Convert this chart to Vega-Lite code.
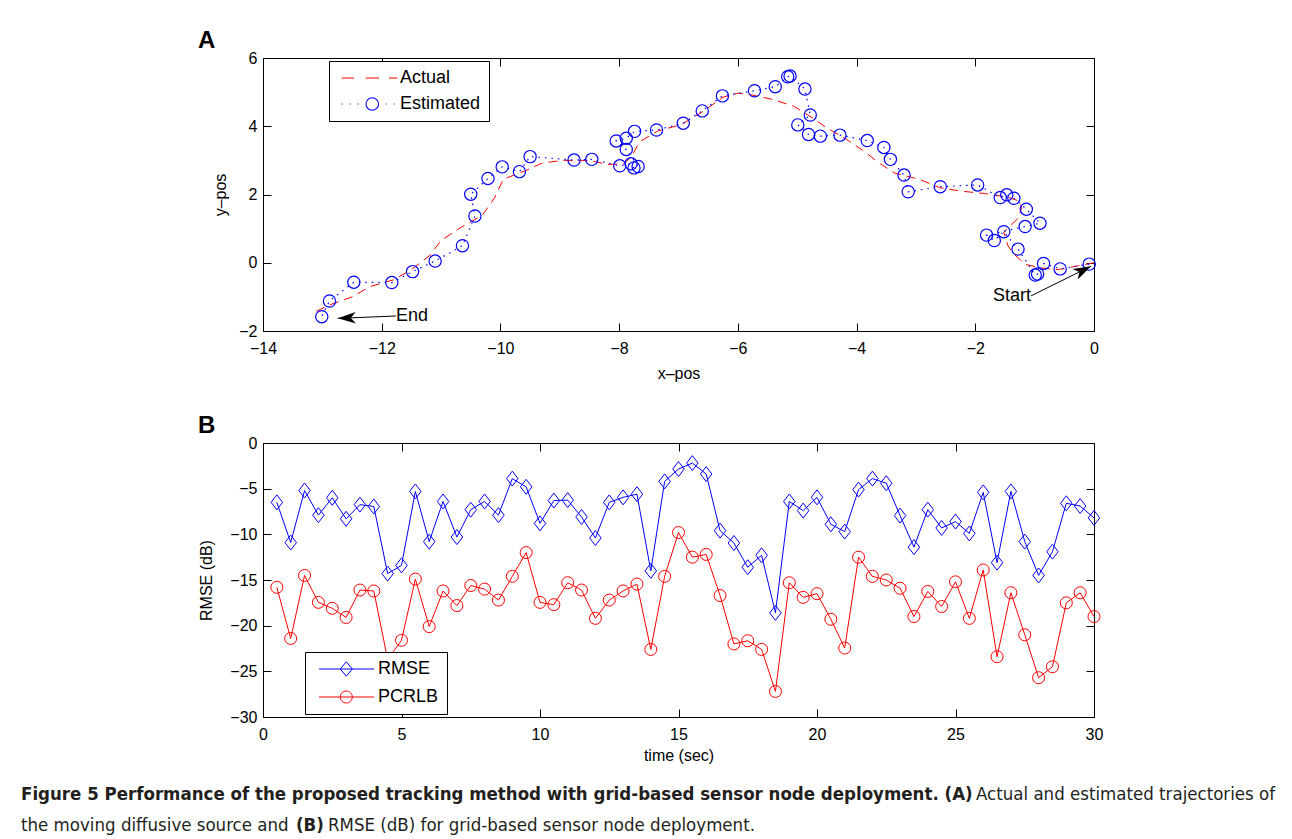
{
  "$schema": "https://vega.github.io/schema/vega-lite/v6.json",
  "background": "white",
  "padding": {"left": 20, "top": 28, "right": 0, "bottom": 0},
  "spacing": 31,
  "resolve": {"scale": {"color": "independent"}, "legend": {"color": "independent"}},
  "config": {
    "font": "Liberation Sans",
    "view": {"stroke": "black", "strokeWidth": 1},
    "axis": {"grid": false, "domainColor": "black", "domainWidth": 1, "tickColor": "black", "tickWidth": 1, "tickSize": -8, "labelColor": "black", "labelFontSize": 16, "labelFlush": false, "labelOverlap": false, "labelBound": false, "titleColor": "black", "titleFontSize": 16, "titleFontWeight": "normal"},
    "axisX": {"labelPadding": 17, "titlePadding": 9},
    "axisY": {"labelPadding": 14, "titlePadding": 10},
    "title": {"fontSize": 24, "fontWeight": "bold", "anchor": "start", "frame": "group", "dx": -65, "offset": -3, "color": "black"}
  },
  "datasets": {
    "actual": [
      {"i":1,"x":0.0,"y":0.0},{"i":2,"x":-0.3,"y":-0.1},{"i":3,"x":-0.6,"y":-0.2},{"i":4,"x":-0.9,"y":-0.15},{"i":5,"x":-1.15,"y":-0.05},
      {"i":6,"x":-1.35,"y":0.25},{"i":7,"x":-1.45,"y":0.5},{"i":8,"x":-1.52,"y":0.9},{"i":9,"x":-1.4,"y":1.1},{"i":10,"x":-1.28,"y":1.3},
      {"i":11,"x":-1.22,"y":1.6},{"i":12,"x":-1.25,"y":1.8},{"i":13,"x":-1.45,"y":1.92},{"i":14,"x":-1.85,"y":2.03},{"i":15,"x":-2.25,"y":2.1},
      {"i":16,"x":-2.6,"y":2.2},{"i":17,"x":-2.95,"y":2.45},{"i":18,"x":-3.35,"y":2.62},{"i":19,"x":-3.6,"y":2.9},{"i":20,"x":-3.9,"y":3.3},
      {"i":21,"x":-4.2,"y":3.65},{"i":22,"x":-4.5,"y":3.95},{"i":23,"x":-4.75,"y":4.25},{"i":24,"x":-5.05,"y":4.58},{"i":25,"x":-5.4,"y":4.78},
      {"i":26,"x":-5.8,"y":4.93},{"i":27,"x":-6.0,"y":4.97},{"i":28,"x":-6.25,"y":4.85},{"i":29,"x":-6.6,"y":4.42},{"i":30,"x":-6.95,"y":4.05},
      {"i":31,"x":-7.35,"y":3.86},{"i":32,"x":-7.65,"y":3.55},{"i":33,"x":-7.8,"y":3.1},{"i":34,"x":-7.92,"y":2.9},{"i":35,"x":-8.2,"y":2.88},
      {"i":36,"x":-8.5,"y":3.0},{"i":37,"x":-8.95,"y":3.0},{"i":38,"x":-9.3,"y":2.92},{"i":39,"x":-9.6,"y":2.68},{"i":40,"x":-9.95,"y":2.45},
      {"i":41,"x":-10.1,"y":1.9},{"i":42,"x":-10.3,"y":1.4},{"i":43,"x":-10.7,"y":1.0},{"i":44,"x":-11.0,"y":0.65},{"i":45,"x":-11.2,"y":0.2},
      {"i":46,"x":-11.5,"y":-0.2},{"i":47,"x":-11.8,"y":-0.5},{"i":48,"x":-12.2,"y":-0.7},{"i":49,"x":-12.5,"y":-1.0},{"i":50,"x":-12.9,"y":-1.25},
      {"i":51,"x":-13.1,"y":-1.42}
    ],
    "estimated": [
      {"i":1,"x":-0.08,"y":-0.04},{"i":2,"x":-0.57,"y":-0.18},{"i":3,"x":-0.85,"y":-0.02},{"i":4,"x":-0.95,"y":-0.33},{"i":5,"x":-0.99,"y":-0.36},
      {"i":6,"x":-1.28,"y":0.4},{"i":7,"x":-1.52,"y":0.91},{"i":8,"x":-1.68,"y":0.65},{"i":9,"x":-1.81,"y":0.81},{"i":10,"x":-1.16,"y":1.06},
      {"i":11,"x":-0.91,"y":1.16},{"i":12,"x":-1.14,"y":1.57},{"i":13,"x":-1.35,"y":1.89},{"i":14,"x":-1.47,"y":1.99},{"i":15,"x":-1.58,"y":1.91},
      {"i":16,"x":-1.96,"y":2.28},{"i":17,"x":-2.59,"y":2.23},{"i":18,"x":-3.13,"y":2.08},{"i":19,"x":-3.2,"y":2.57},{"i":20,"x":-3.43,"y":3.03},
      {"i":21,"x":-3.54,"y":3.38},{"i":22,"x":-3.82,"y":3.58},{"i":23,"x":-4.28,"y":3.74},{"i":24,"x":-4.61,"y":3.71},{"i":25,"x":-4.81,"y":3.76},
      {"i":26,"x":-4.99,"y":4.04},{"i":27,"x":-4.78,"y":4.33},{"i":28,"x":-4.87,"y":5.09},{"i":29,"x":-5.12,"y":5.47},{"i":30,"x":-5.16,"y":5.45},
      {"i":31,"x":-5.37,"y":5.16},{"i":32,"x":-5.72,"y":5.04},{"i":33,"x":-6.26,"y":4.89},{"i":34,"x":-6.6,"y":4.45},{"i":35,"x":-6.92,"y":4.09},
      {"i":36,"x":-7.37,"y":3.89},{"i":37,"x":-7.74,"y":3.85},{"i":38,"x":-7.88,"y":3.65},{"i":39,"x":-8.05,"y":3.57},{"i":40,"x":-7.88,"y":3.32},
      {"i":41,"x":-7.68,"y":2.82},{"i":42,"x":-7.75,"y":2.78},{"i":43,"x":-7.8,"y":2.9},{"i":44,"x":-7.99,"y":2.84},{"i":45,"x":-8.46,"y":3.03},
      {"i":46,"x":-8.76,"y":3.01},{"i":47,"x":-9.5,"y":3.11},{"i":48,"x":-9.68,"y":2.67},{"i":49,"x":-9.97,"y":2.81},{"i":50,"x":-10.21,"y":2.47},
      {"i":51,"x":-10.5,"y":2.01},{"i":52,"x":-10.43,"y":1.37},{"i":53,"x":-10.64,"y":0.5},{"i":54,"x":-11.1,"y":0.05},{"i":55,"x":-11.48,"y":-0.26},
      {"i":56,"x":-11.83,"y":-0.58},{"i":57,"x":-12.47,"y":-0.57},{"i":58,"x":-12.88,"y":-1.12},{"i":59,"x":-13.01,"y":-1.58}
    ],
    "notes": [
      {"label":"End","x":-11.76,"y":-1.56,"hx":-12.74,"hy":-1.63},
      {"label":"Start","x":-1.06,"y":-0.97,"hx":-0.05,"hy":-0.1}
    ],
    "errors": [
      {"t":0.5,"RMSE":-6.5,"PCRLB":-15.8},{"t":1,"RMSE":-10.9,"PCRLB":-21.4},{"t":1.5,"RMSE":-5.2,"PCRLB":-14.5},{"t":2,"RMSE":-7.9,"PCRLB":-17.45},
      {"t":2.5,"RMSE":-6.0,"PCRLB":-18.1},{"t":3,"RMSE":-8.3,"PCRLB":-19.1},{"t":3.5,"RMSE":-6.75,"PCRLB":-16.1},{"t":4,"RMSE":-6.95,"PCRLB":-16.2},
      {"t":4.5,"RMSE":-14.3,"PCRLB":-23.7},{"t":5,"RMSE":-13.4,"PCRLB":-21.6},{"t":5.5,"RMSE":-5.3,"PCRLB":-14.9},{"t":6,"RMSE":-10.8,"PCRLB":-20.1},
      {"t":6.5,"RMSE":-6.4,"PCRLB":-16.2},{"t":7,"RMSE":-10.3,"PCRLB":-17.8},{"t":7.5,"RMSE":-7.3,"PCRLB":-15.6},{"t":8,"RMSE":-6.4,"PCRLB":-16.0},
      {"t":8.5,"RMSE":-7.9,"PCRLB":-17.2},{"t":9,"RMSE":-3.9,"PCRLB":-14.6},{"t":9.5,"RMSE":-4.8,"PCRLB":-12.0},{"t":10,"RMSE":-8.8,"PCRLB":-17.45},
      {"t":10.5,"RMSE":-6.3,"PCRLB":-17.7},{"t":11,"RMSE":-6.25,"PCRLB":-15.3},{"t":11.5,"RMSE":-8.1,"PCRLB":-16.1},{"t":12,"RMSE":-10.4,"PCRLB":-19.2},
      {"t":12.5,"RMSE":-6.5,"PCRLB":-17.2},{"t":13,"RMSE":-5.95,"PCRLB":-16.2},{"t":13.5,"RMSE":-5.6,"PCRLB":-15.45},{"t":14,"RMSE":-14.0,"PCRLB":-22.6},
      {"t":14.5,"RMSE":-4.2,"PCRLB":-14.6},{"t":15,"RMSE":-2.85,"PCRLB":-9.8},{"t":15.5,"RMSE":-2.2,"PCRLB":-12.5},{"t":16,"RMSE":-3.4,"PCRLB":-12.2},
      {"t":16.5,"RMSE":-9.6,"PCRLB":-16.7},{"t":17,"RMSE":-10.95,"PCRLB":-22.0},{"t":17.5,"RMSE":-13.6,"PCRLB":-21.65},{"t":18,"RMSE":-12.3,"PCRLB":-22.6},
      {"t":18.5,"RMSE":-18.6,"PCRLB":-27.2},{"t":19,"RMSE":-6.4,"PCRLB":-15.3},{"t":19.5,"RMSE":-7.4,"PCRLB":-16.9},{"t":20,"RMSE":-5.95,"PCRLB":-16.5},
      {"t":20.5,"RMSE":-8.9,"PCRLB":-19.3},{"t":21,"RMSE":-9.7,"PCRLB":-22.45},{"t":21.5,"RMSE":-5.1,"PCRLB":-12.5},{"t":22,"RMSE":-3.9,"PCRLB":-14.6},
      {"t":22.5,"RMSE":-4.4,"PCRLB":-15.0},{"t":23,"RMSE":-7.95,"PCRLB":-15.9},{"t":23.5,"RMSE":-11.4,"PCRLB":-19.0},{"t":24,"RMSE":-7.3,"PCRLB":-16.25},
      {"t":24.5,"RMSE":-9.3,"PCRLB":-17.9},{"t":25,"RMSE":-8.6,"PCRLB":-15.2},{"t":25.5,"RMSE":-9.9,"PCRLB":-19.2},{"t":26,"RMSE":-5.4,"PCRLB":-13.9},
      {"t":26.5,"RMSE":-13.1,"PCRLB":-23.4},{"t":27,"RMSE":-5.3,"PCRLB":-16.4},{"t":27.5,"RMSE":-10.8,"PCRLB":-21.0},{"t":28,"RMSE":-14.5,"PCRLB":-25.7},
      {"t":28.5,"RMSE":-11.9,"PCRLB":-24.5},{"t":29,"RMSE":-6.6,"PCRLB":-17.5},{"t":29.5,"RMSE":-6.9,"PCRLB":-16.4},{"t":30,"RMSE":-8.2,"PCRLB":-19.0}
    ],
    "caption": [
      {"line":1,"kind":"bold","col":-0.2912,"text":"Figure 5 Performance of the proposed tracking method with grid-based sensor node deployment. (A)"},
      {"line":1,"kind":"normal","col":0.858,"text":"Actual and estimated trajectories of"},
      {"line":2,"kind":"normal","col":-0.2912,"text":"the moving diffusive source and"},
      {"line":2,"kind":"bold","col":0.0397,"text":"(B)"},
      {"line":2,"kind":"normal","col":0.0782,"text":"RMSE (dB) for grid-based sensor node deployment."}
    ]
  },
  "vconcat": [
    {
      "width": 831,
      "height": 273,
      "title": {"text": "A"},
      "resolve": {"axis": {"x": "independent", "y": "independent"}},
      "layer": [
        {
          "data": {"name": "actual"},
          "mark": {"type": "line", "strokeWidth": 1, "strokeDash": [9, 6]},
          "encoding": {
            "x": {"field": "x", "type": "quantitative", "scale": {"domain": [-14, 0], "nice": false, "zero": false}, "axis": {"orient": "bottom", "values": [-14,-12,-10,-8,-6,-4,-2,0], "title": "x–pos"}},
            "y": {"field": "y", "type": "quantitative", "scale": {"domain": [-2, 6], "nice": false, "zero": false}, "axis": {"orient": "left", "values": [-2,0,2,4,6], "title": "y–pos"}},
            "order": {"field": "i", "type": "quantitative"},
            "color": {
              "datum": "Actual", "type": "nominal",
              "scale": {"domain": ["Actual", "Estimated"], "range": ["#ff0000", "#0000ff"]},
              "legend": {
                "title": null, "orient": "none", "legendX": 66, "legendY": 3,
                "strokeColor": "black", "fillColor": "white", "padding": 8, "rowPadding": 8,
                "labelFontSize": 18, "labelColor": "black", "labelOffset": 45, "symbolSize": 144,
                "encode": {"symbols": {"update": {
                  "shape": {"signal": "datum.value === 'Actual' ? 'M-0.72,0H1.33M3.28,0H5.5M7.17,0H8.55' : 'M-0.72,0H-0.55M0.62,0H0.79M1.95,0H2.12M6.62,0H6.79M7.95,0H8.12M5.43,0A1.05,1.05 0 1,1 3.33,0A1.05,1.05 0 1,1 5.43,0'"},
                  "stroke": {"signal": "datum.value === 'Actual' ? '#ff0000' : '#0000ff'"},
                  "fill": {"value": "transparent"},
                  "strokeWidth": {"value": 1.1},
                  "size": {"value": 144},
                  "opacity": {"value": 1}
                }}}
              }
            }
          }
        },
        {
          "data": {"name": "estimated"},
          "mark": {"type": "line", "strokeWidth": 1.2, "strokeDash": [1.5, 5]},
          "encoding": {
            "x": {"field": "x", "type": "quantitative", "axis": {"orient": "top", "values": [-14,-12,-10,-8,-6,-4,-2,0], "labels": false, "title": null, "domain": false}},
            "y": {"field": "y", "type": "quantitative", "axis": {"orient": "right", "values": [-2,0,2,4,6], "labels": false, "title": null, "domain": false}},
            "order": {"field": "i", "type": "quantitative"},
            "color": {"datum": "Estimated", "type": "nominal"}
          }
        },
        {
          "data": {"name": "estimated"},
          "mark": {"type": "point", "shape": "circle", "filled": false, "size": 150, "strokeWidth": 1.2, "color": "#0000ff", "opacity": 1},
          "encoding": {
            "x": {"field": "x", "type": "quantitative", "axis": null},
            "y": {"field": "y", "type": "quantitative", "axis": null}
          }
        },
        {
          "data": {"name": "notes"},
          "mark": {"type": "rule", "color": "black", "strokeWidth": 1},
          "encoding": {
            "x": {"field": "x", "type": "quantitative", "axis": null},
            "y": {"field": "y", "type": "quantitative", "axis": null},
            "x2": {"field": "hx"},
            "y2": {"field": "hy"}
          }
        },
        {
          "data": {"name": "notes"},
          "transform": [{"filter": "datum.label === 'End'"}],
          "mark": {"type": "point", "shape": "M0,0L-2,-0.65L-1.45,0L-2,0.65Z", "filled": true, "color": "black", "size": 324, "angle": 178, "opacity": 1},
          "encoding": {
            "x": {"field": "hx", "type": "quantitative", "axis": null},
            "y": {"field": "hy", "type": "quantitative", "axis": null}
          }
        },
        {
          "data": {"name": "notes"},
          "transform": [{"filter": "datum.label === 'Start'"}],
          "mark": {"type": "point", "shape": "M0,0L-2,-0.65L-1.45,0L-2,0.65Z", "filled": true, "color": "black", "size": 324, "angle": -27, "opacity": 1},
          "encoding": {
            "x": {"field": "hx", "type": "quantitative", "axis": null},
            "y": {"field": "hy", "type": "quantitative", "axis": null}
          }
        },
        {
          "data": {"name": "notes"},
          "transform": [{"filter": "datum.label === 'End'"}],
          "mark": {"type": "text", "align": "left", "baseline": "middle", "fontSize": 18, "color": "black"},
          "encoding": {
            "x": {"field": "x", "type": "quantitative", "axis": null},
            "y": {"field": "y", "type": "quantitative", "axis": null},
            "text": {"field": "label"}
          }
        },
        {
          "data": {"name": "notes"},
          "transform": [{"filter": "datum.label === 'Start'"}],
          "mark": {"type": "text", "align": "right", "baseline": "middle", "fontSize": 18, "color": "black"},
          "encoding": {
            "x": {"field": "x", "type": "quantitative", "axis": null},
            "y": {"field": "y", "type": "quantitative", "axis": null},
            "text": {"field": "label"}
          }
        }
      ]
    },
    {
      "title": {"text": "B"},
      "width": 831,
      "height": 274,
      "resolve": {"scale": {"x": "independent", "y": "independent"}},
      "layer": [
        {
          "data": {"name": "errors"},
          "transform": [{"fold": ["RMSE", "PCRLB"], "as": ["key", "value"]}],
          "resolve": {"axis": {"x": "independent", "y": "independent"}},
          "layer": [
            {
              "mark": {"type": "line", "strokeWidth": 1},
              "encoding": {
                "x": {"field": "t", "type": "quantitative", "scale": {"domain": [0, 30], "nice": false, "zero": false}, "axis": {"orient": "bottom", "values": [0,5,10,15,20,25,30], "title": "time (sec)", "titlePadding": 5}},
                "y": {"field": "value", "type": "quantitative", "scale": {"domain": [-30, 0], "nice": false, "zero": false}, "axis": {"orient": "left", "values": [-30,-25,-20,-15,-10,-5,0], "title": "RMSE (dB)", "titlePadding": 15}},
                "color": {
                  "field": "key", "type": "nominal",
                  "scale": {"domain": ["RMSE", "PCRLB"], "range": ["#0000ff", "#ff0000"]},
                  "legend": {
                    "title": null, "orient": "none", "legendX": 42, "legendY": 209,
                    "strokeColor": "black", "fillColor": "white", "padding": 8, "rowPadding": 9,
                    "labelFontSize": 18, "labelColor": "black", "labelOffset": 47, "symbolSize": 144,
                    "encode": {"symbols": {"update": {
                      "shape": {"signal": "datum.value === 'RMSE' ? 'M-0.5,0H8.67M3.05,0L4.05,-1.2L5.05,0L4.05,1.2Z' : 'M-0.5,0H8.67M5.05,0A1,1 0 1,1 3.05,0A1,1 0 1,1 5.05,0'"},
                      "stroke": {"signal": "datum.value === 'RMSE' ? '#0000ff' : '#ff0000'"},
                      "fill": {"value": "transparent"},
                      "strokeWidth": {"value": 1},
                      "size": {"value": 144},
                      "opacity": {"value": 1}
                    }}}
                  }
                }
              }
            },
            {
              "transform": [{"filter": "datum.key === 'RMSE'"}],
              "mark": {"type": "point", "shape": "M-1,0L0,-1.3L1,0L0,1.3Z", "filled": false, "size": 132, "strokeWidth": 1, "color": "#0000ff", "opacity": 1},
              "encoding": {
                "x": {"field": "t", "type": "quantitative", "axis": {"orient": "top", "values": [0,5,10,15,20,25,30], "labels": false, "title": null, "domain": false}},
                "y": {"field": "value", "type": "quantitative", "axis": {"orient": "right", "values": [-30,-25,-20,-15,-10,-5,0], "labels": false, "title": null, "domain": false}}
              }
            },
            {
              "transform": [{"filter": "datum.key === 'PCRLB'"}],
              "mark": {"type": "point", "shape": "circle", "filled": false, "size": 144, "strokeWidth": 1, "color": "#ff0000", "opacity": 1},
              "encoding": {
                "x": {"field": "t", "type": "quantitative", "axis": null},
                "y": {"field": "value", "type": "quantitative", "axis": null}
              }
            }
          ]
        },
        {
          "data": {"name": "caption"},
          "transform": [{"filter": "datum.kind === 'bold'"}],
          "mark": {"type": "text", "align": "left", "baseline": "middle", "font": "DejaVu Sans Condensed", "fontSize": 18.5, "fontWeight": "bold", "color": "#231f20"},
          "encoding": {
            "x": {"field": "col", "type": "quantitative", "scale": {"domain": [0, 1], "nice": false, "zero": false}, "axis": null},
            "y": {"field": "line", "type": "ordinal", "scale": {"type": "point", "domain": [1, 2], "range": [351, 382], "padding": 0}, "axis": null},
            "text": {"field": "text"}
          }
        },
        {
          "data": {"name": "caption"},
          "transform": [{"filter": "datum.kind === 'normal'"}],
          "mark": {"type": "text", "align": "left", "baseline": "middle", "font": "DejaVu Sans Condensed", "fontSize": 18.5, "fontWeight": "normal", "color": "#231f20"},
          "encoding": {
            "x": {"field": "col", "type": "quantitative", "scale": {"domain": [0, 1], "nice": false, "zero": false}, "axis": null},
            "y": {"field": "line", "type": "ordinal", "scale": {"type": "point", "domain": [1, 2], "range": [351, 382], "padding": 0}, "axis": null},
            "text": {"field": "text"}
          }
        }
      ]
    }
  ]
}
